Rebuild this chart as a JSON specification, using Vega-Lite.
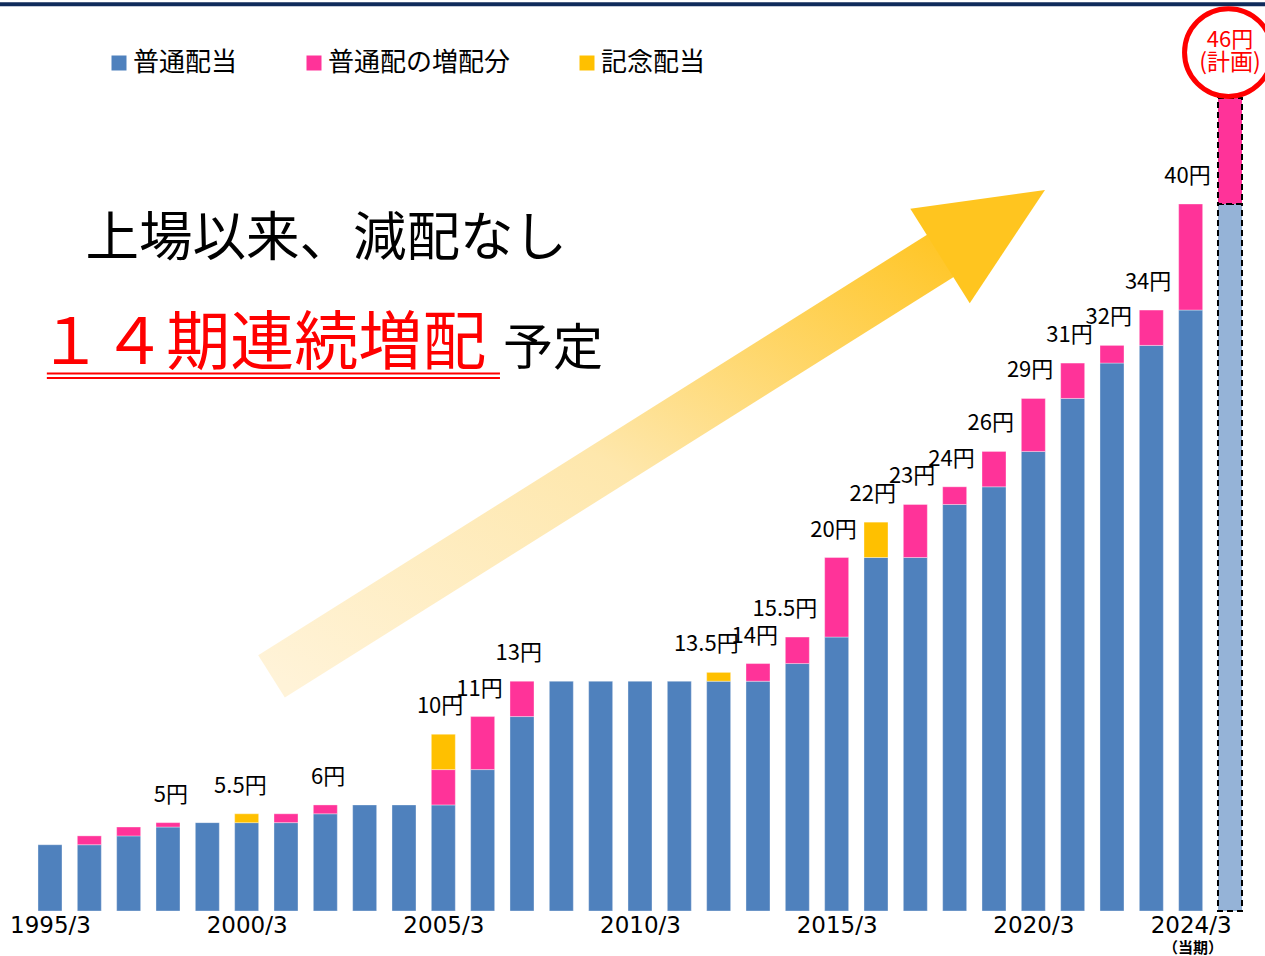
{
  "$schema": "https://vega.github.io/schema/vega-lite/v6.json",
  "width": 1265,
  "height": 911,
  "autosize": {"type": "none"},
  "padding": {"left": 0, "top": 0, "right": 0, "bottom": 45},
  "background": "white",
  "config": {
    "view": {"stroke": null},
    "font": "Noto Sans CJK JP",
    "axisX": {"title": null, "domain": false, "ticks": false, "grid": false, "labelFont": "DejaVu Sans", "labelFontSize": 23, "labelColor": "#000000", "labelPadding": 3, "labelFlush": false, "labelOverlap": false}
  },
  "datasets": {
    "bars": [
      {"year": 1995, "series": "普通配当", "k": 1, "v": 3.75},
      {"year": 1996, "series": "普通配当", "k": 1, "v": 3.75},
      {"year": 1996, "series": "普通配の増配分", "k": 2, "v": 0.5},
      {"year": 1997, "series": "普通配当", "k": 1, "v": 4.25},
      {"year": 1997, "series": "普通配の増配分", "k": 2, "v": 0.5},
      {"year": 1998, "series": "普通配当", "k": 1, "v": 4.75},
      {"year": 1998, "series": "普通配の増配分", "k": 2, "v": 0.25},
      {"year": 1999, "series": "普通配当", "k": 1, "v": 5},
      {"year": 2000, "series": "普通配当", "k": 1, "v": 5},
      {"year": 2000, "series": "記念配当", "k": 3, "v": 0.5},
      {"year": 2001, "series": "普通配当", "k": 1, "v": 5},
      {"year": 2001, "series": "普通配の増配分", "k": 2, "v": 0.5},
      {"year": 2002, "series": "普通配当", "k": 1, "v": 5.5},
      {"year": 2002, "series": "普通配の増配分", "k": 2, "v": 0.5},
      {"year": 2003, "series": "普通配当", "k": 1, "v": 6},
      {"year": 2004, "series": "普通配当", "k": 1, "v": 6},
      {"year": 2005, "series": "普通配当", "k": 1, "v": 6},
      {"year": 2005, "series": "普通配の増配分", "k": 2, "v": 2},
      {"year": 2005, "series": "記念配当", "k": 3, "v": 2},
      {"year": 2006, "series": "普通配当", "k": 1, "v": 8},
      {"year": 2006, "series": "普通配の増配分", "k": 2, "v": 3},
      {"year": 2007, "series": "普通配当", "k": 1, "v": 11},
      {"year": 2007, "series": "普通配の増配分", "k": 2, "v": 2},
      {"year": 2008, "series": "普通配当", "k": 1, "v": 13},
      {"year": 2009, "series": "普通配当", "k": 1, "v": 13},
      {"year": 2010, "series": "普通配当", "k": 1, "v": 13},
      {"year": 2011, "series": "普通配当", "k": 1, "v": 13},
      {"year": 2012, "series": "普通配当", "k": 1, "v": 13},
      {"year": 2012, "series": "記念配当", "k": 3, "v": 0.5},
      {"year": 2013, "series": "普通配当", "k": 1, "v": 13},
      {"year": 2013, "series": "普通配の増配分", "k": 2, "v": 1},
      {"year": 2014, "series": "普通配当", "k": 1, "v": 14},
      {"year": 2014, "series": "普通配の増配分", "k": 2, "v": 1.5},
      {"year": 2015, "series": "普通配当", "k": 1, "v": 15.5},
      {"year": 2015, "series": "普通配の増配分", "k": 2, "v": 4.5},
      {"year": 2016, "series": "普通配当", "k": 1, "v": 20},
      {"year": 2016, "series": "記念配当", "k": 3, "v": 2},
      {"year": 2017, "series": "普通配当", "k": 1, "v": 20},
      {"year": 2017, "series": "普通配の増配分", "k": 2, "v": 3},
      {"year": 2018, "series": "普通配当", "k": 1, "v": 23},
      {"year": 2018, "series": "普通配の増配分", "k": 2, "v": 1},
      {"year": 2019, "series": "普通配当", "k": 1, "v": 24},
      {"year": 2019, "series": "普通配の増配分", "k": 2, "v": 2},
      {"year": 2020, "series": "普通配当", "k": 1, "v": 26},
      {"year": 2020, "series": "普通配の増配分", "k": 2, "v": 3},
      {"year": 2021, "series": "普通配当", "k": 1, "v": 29},
      {"year": 2021, "series": "普通配の増配分", "k": 2, "v": 2},
      {"year": 2022, "series": "普通配当", "k": 1, "v": 31},
      {"year": 2022, "series": "普通配の増配分", "k": 2, "v": 1},
      {"year": 2023, "series": "普通配当", "k": 1, "v": 32},
      {"year": 2023, "series": "普通配の増配分", "k": 2, "v": 2},
      {"year": 2024, "series": "普通配当", "k": 1, "v": 34},
      {"year": 2024, "series": "普通配の増配分", "k": 2, "v": 6}
    ],
    "plan": [
      {"year": 2025, "series": "計画普通", "k": 1, "v": 40},
      {"year": 2025, "series": "計画増配", "k": 2, "v": 6}
    ],
    "labels": [
      {"year": 1998, "total": 5, "label": "5円"},
      {"year": 2000, "total": 5.5, "label": "5.5円"},
      {"year": 2002, "total": 6, "label": "6円"},
      {"year": 2005, "total": 10, "label": "10円"},
      {"year": 2006, "total": 11, "label": "11円"},
      {"year": 2007, "total": 13, "label": "13円"},
      {"year": 2012, "total": 13.5, "label": "13.5円"},
      {"year": 2013, "total": 14, "label": "14円"},
      {"year": 2014, "total": 15.5, "label": "15.5円"},
      {"year": 2015, "total": 20, "label": "20円"},
      {"year": 2016, "total": 22, "label": "22円"},
      {"year": 2017, "total": 23, "label": "23円"},
      {"year": 2018, "total": 24, "label": "24円"},
      {"year": 2019, "total": 26, "label": "26円"},
      {"year": 2020, "total": 29, "label": "29円"},
      {"year": 2021, "total": 31, "label": "31円"},
      {"year": 2022, "total": 32, "label": "32円"},
      {"year": 2023, "total": 34, "label": "34円"},
      {"year": 2024, "total": 40, "label": "40円"}
    ],
    "arrow": [
      {"ax": 2000.632, "ay": 13.27},
      {"ax": 2017.849, "ay": 37.36}
    ]
  },
  "layer": [
    {
      "data": {"values": [{}]},
      "mark": {"type": "rule", "color": "#0F2B5B", "strokeWidth": 4},
      "encoding": {
        "y": {"datum": 51.3, "type": "quantitative", "axis": null}
      }
    },
    {
      "data": {"name": "arrow"},
      "mark": {
        "type": "line",
        "strokeWidth": 50,
        "strokeCap": "butt",
        "stroke": {
          "gradient": "linear",
          "x1": 0, "y1": 1, "x2": 1, "y2": 0,
          "stops": [
            {"offset": 0, "color": "#FFF3D8"},
            {"offset": 0.5, "color": "#FEE7AC"},
            {"offset": 1, "color": "#FFC628"}
          ]
        }
      },
      "encoding": {
        "x": {"field": "ax", "type": "quantitative"},
        "y": {"field": "ay", "type": "quantitative", "axis": null}
      }
    },
    {
      "data": {"values": [{}]},
      "mark": {
        "type": "point",
        "shape": "M -1 -0.9 L 1 0 L -1 0.9 Z",
        "size": 15376,
        "angle": 327.83,
        "filled": true,
        "fill": "#FFC51F",
        "opacity": 1,
        "strokeWidth": 0
      },
      "encoding": {
        "x": {"datum": 2018.962, "type": "quantitative"},
        "y": {"datum": 38.93, "type": "quantitative", "axis": null}
      }
    },
    {
      "data": {"name": "bars"},
      "mark": {"type": "bar", "size": 24, "stroke": "#FFFFFF", "strokeWidth": 0.7, "strokeOpacity": 0.5},
      "encoding": {
        "x": {
          "field": "year", "type": "quantitative",
          "scale": {"domain": [1993.729, 2025.89], "nice": false, "zero": false, "padding": 0},
          "axis": {
            "values": [1995, 2000, 2005, 2010, 2015, 2020, 2024],
            "labelExpr": "datum.value + '/3'"
          }
        },
        "y": {
          "field": "v", "type": "quantitative", "stack": "zero",
          "scale": {"domain": [0, 51.542], "nice": false, "zero": true},
          "axis": null
        },
        "order": {"field": "k", "type": "quantitative"},
        "color": {
          "field": "series", "type": "nominal",
          "scale": {
            "domain": ["普通配当", "普通配の増配分", "記念配当", "計画普通", "計画増配"],
            "range": ["#4F81BD", "#FF3399", "#FFC000", "#95B3D7", "#FF3399"]
          },
          "legend": {
            "values": ["普通配当", "普通配の増配分", "記念配当"],
            "orient": "none", "legendX": 106, "legendY": 50,
            "direction": "horizontal", "title": null,
            "symbolType": "square", "symbolSize": 225, "symbolStrokeWidth": 0,
            "symbolOpacity": 1,
            "labelFont": "Noto Sans CJK JP", "labelFontSize": 26, "labelColor": "#000000",
            "labelOffset": 1, "columnPadding": 63, "labelLimit": 400, "padding": 0
          }
        }
      }
    },
    {
      "data": {"name": "plan"},
      "mark": {"type": "bar", "size": 24, "stroke": "#000000", "strokeWidth": 2, "strokeDash": [6, 4]},
      "encoding": {
        "x": {"field": "year", "type": "quantitative"},
        "y": {"field": "v", "type": "quantitative", "stack": "zero", "axis": null},
        "order": {"field": "k", "type": "quantitative"},
        "color": {
          "field": "series", "type": "nominal",
          "legend": {
            "values": ["普通配当", "普通配の増配分", "記念配当"],
            "orient": "none", "legendX": 106, "legendY": 50,
            "direction": "horizontal", "title": null,
            "symbolType": "square", "symbolSize": 225, "symbolStrokeWidth": 0,
            "symbolOpacity": 1,
            "labelFont": "Noto Sans CJK JP", "labelFontSize": 26, "labelColor": "#000000",
            "labelOffset": 1, "columnPadding": 63, "labelLimit": 400, "padding": 0
          }
        }
      }
    },
    {
      "data": {"name": "labels"},
      "mark": {"type": "text", "align": "right", "baseline": "middle", "dx": 20, "dy": -28, "fontSize": 22, "font": "Noto Sans CJK JP", "color": "#000000"},
      "encoding": {
        "x": {"field": "year", "type": "quantitative"},
        "y": {"field": "total", "type": "quantitative", "axis": null},
        "text": {"field": "label"}
      }
    },
    {
      "data": {"values": [{}]},
      "mark": {"type": "text", "text": "（当期）", "align": "center", "baseline": "middle", "fontSize": 15, "fontWeight": "bold", "font": "Noto Sans CJK JP", "color": "#000000"},
      "encoding": {
        "x": {"datum": 2024.06, "type": "quantitative"},
        "y": {"datum": -2.1, "type": "quantitative", "axis": null}
      }
    },
    {
      "data": {"values": [{}]},
      "mark": {"type": "point", "shape": "circle", "size": 7700, "filled": false, "stroke": "#FF0000", "strokeWidth": 5, "opacity": 1},
      "encoding": {
        "x": {"datum": 2024.96, "type": "quantitative"},
        "y": {"datum": 48.57, "type": "quantitative", "axis": null}
      }
    },
    {
      "data": {"values": [{}]},
      "mark": {"type": "text", "text": "46円", "align": "center", "baseline": "middle", "fontSize": 22, "font": "Noto Sans CJK JP", "color": "#FF0000"},
      "encoding": {
        "x": {"datum": 2025.0, "type": "quantitative"},
        "y": {"datum": 49.28, "type": "quantitative", "axis": null}
      }
    },
    {
      "data": {"values": [{}]},
      "mark": {"type": "text", "text": "(計画)", "align": "center", "baseline": "middle", "fontSize": 23, "font": "Noto Sans CJK JP", "color": "#FF0000"},
      "encoding": {
        "x": {"datum": 2025.0, "type": "quantitative"},
        "y": {"datum": 47.98, "type": "quantitative", "axis": null}
      }
    },
    {
      "data": {"values": [{}]},
      "mark": {"type": "text", "text": "上場以来、減配なし", "align": "left", "baseline": "middle", "fontSize": 53.5, "font": "Noto Sans CJK JP", "color": "#000000"},
      "encoding": {
        "x": {"datum": 1995.9, "type": "quantitative"},
        "y": {"datum": 37.96, "type": "quantitative", "axis": null}
      }
    },
    {
      "data": {"values": [{}]},
      "mark": {"type": "text", "text": "１４期連続増配", "align": "left", "baseline": "middle", "fontSize": 64, "font": "Noto Sans CJK JP", "color": "#FF0000"},
      "encoding": {
        "x": {"datum": 1994.7, "type": "quantitative"},
        "y": {"datum": 32.02, "type": "quantitative", "axis": null}
      }
    },
    {
      "data": {"values": [{}]},
      "mark": {"type": "text", "text": "予定", "align": "left", "baseline": "middle", "fontSize": 50, "font": "Noto Sans CJK JP", "color": "#000000"},
      "encoding": {
        "x": {"datum": 2006.52, "type": "quantitative"},
        "y": {"datum": 31.74, "type": "quantitative", "axis": null}
      }
    },
    {
      "data": {"values": [{}]},
      "mark": {"type": "rule", "color": "#FF0000", "strokeWidth": 2},
      "encoding": {
        "x": {"datum": 1994.92, "type": "quantitative"},
        "x2": {"datum": 2006.44},
        "y": {"datum": 30.41, "type": "quantitative", "axis": null}
      }
    },
    {
      "data": {"values": [{}]},
      "mark": {"type": "rule", "color": "#FF0000", "strokeWidth": 2},
      "encoding": {
        "x": {"datum": 1994.92, "type": "quantitative"},
        "x2": {"datum": 2006.44},
        "y": {"datum": 30.16, "type": "quantitative", "axis": null}
      }
    }
  ]
}
